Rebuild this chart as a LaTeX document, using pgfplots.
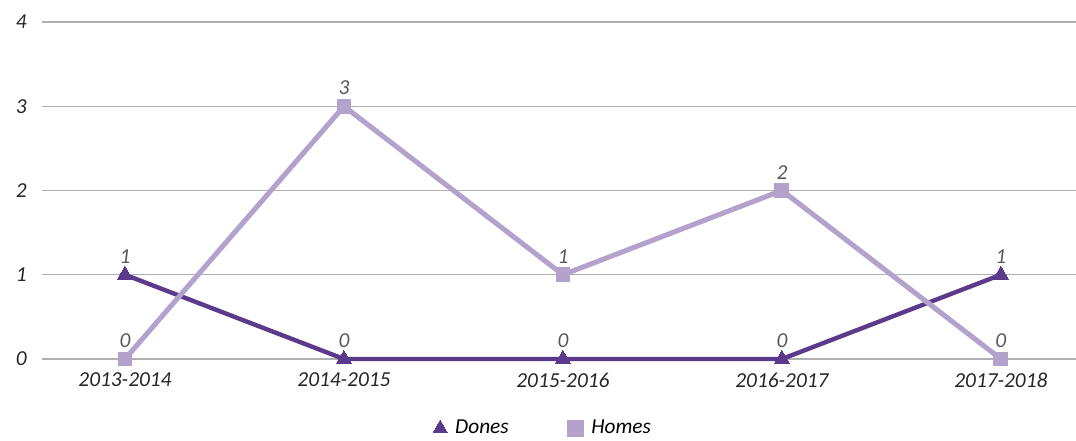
\documentclass[border=0pt]{standalone}
\usepackage{pgfplots}
\pgfplotsset{compat=1.18}
\usepackage{fontspec}
\setmainfont{Carlito}
\definecolor{dark}{HTML}{5B3A8C}
\definecolor{light}{HTML}{B3A3CC}
\definecolor{gridc}{HTML}{B0B0B0}
\definecolor{lbl}{HTML}{595959}
\begin{document}
\begin{tikzpicture}
\path[use as bounding box] (0,0) rectangle (807pt,330.75pt);
\begin{axis}[
  at={(31.5pt,61.5pt)}, anchor=south west,
  scale only axis, width=775.5pt, height=252.75pt,
  xmin=-0.379, xmax=4.343, ymin=0, ymax=4,
  xtick={0,1,2,3,4},
  xticklabels={2013-2014,2014-2015,2015-2016,2016-2017,2017-2018},
  ytick={0,1,2,3,4},
  axis line style={draw=none},
  major tick length=0pt,
  ymajorgrids, grid style={gridc, line width=1.1pt},
  ticklabel style={font=\fontsize{16}{19}\selectfont\itshape, text=black!85},
  yticklabel style={xshift=-8pt},
  xticklabel style={yshift=-7pt},
  /pgf/number format/assume math mode=true,
  clip=false,
  nodes near coords,
  nodes near coords style={font=\fontsize{16}{19}\selectfont\itshape, text=lbl, yshift=5pt},
  legend style={at={(0.485,-0.205)}, anchor=center, draw=none, legend columns=2,
    font=\fontsize{16}{19}\selectfont\itshape,
    /tikz/every odd column/.append style={column sep=4pt},
    /tikz/every even column/.append style={column sep=42pt}},
  legend image code/.code={\draw[#1, mark size=6pt] plot coordinates {(0.3cm,0cm)};},
]
\addplot[dark, line width=3.3pt, mark=triangle*, mark size=6.5pt, mark options={line width=0pt}]
  coordinates {(0,1) (1,0) (2,0) (3,0) (4,1)};
\addlegendentry{Dones}
\addplot[light, line width=3.8pt, mark=square*, mark size=5.2pt, mark options={line width=0pt, fill=light}]
  coordinates {(0,0) (1,3) (2,1) (3,2) (4,0)};
\addlegendentry{Homes}
\end{axis}
\end{tikzpicture}
\end{document}
